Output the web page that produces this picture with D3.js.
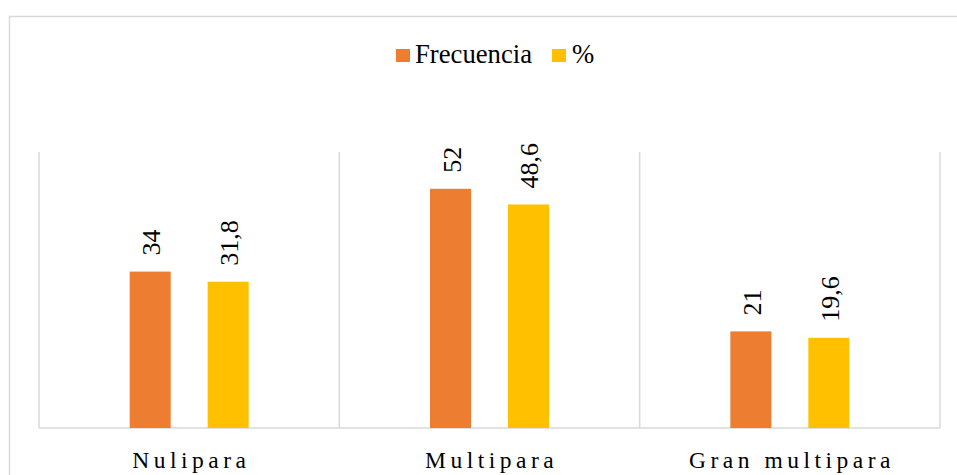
<!DOCTYPE html>
<html>
<head>
<meta charset="utf-8">
<script src="https://cdn.jsdelivr.net/npm/d3@7"></script>
<style>
  html, body { margin: 0; padding: 0; background: #fff; }
  svg { display: block; }
  svg text { font-family: "Liberation Serif", "Times New Roman", Times, serif; }
</style>
</head>
<body>
<svg id="chart" width="957" height="475"></svg>
<script>
const categories = ["Nulipara", "Multipara", "Gran multipara"];
const seriesNames = ["Frecuencia", "%"];
const frecuencia = [34, 52, 21];
const porcentaje = [31.8, 48.6, 19.6];
const labelsFrecuencia = ["34", "52", "21"];
const labelsPorcentaje = ["31,8", "48,6", "19,6"];
const colors = ["#ED7D31", "#FFC000"];
const yDomain = [0, 60];

const svg = d3.select("#chart");

// outer border
svg.append("rect")
  .attr("x", 9.5).attr("y", 16.5)
  .attr("width", 1100).attr("height", 1100)
  .attr("fill", "none").attr("stroke", "#d9d9d9").attr("stroke-width", 1.5);

const plot = { left: 39, right: 940, top: 152, bottom: 428 };

const x0 = d3.scaleBand().domain(categories).range([plot.left, plot.right]).padding(0);
const x1 = d3.scaleBand().domain(seriesNames).range([-59.5, 59.5]).paddingInner(0.474).paddingOuter(0);
const y = d3.scaleLinear().domain(yDomain).range([plot.bottom, plot.top]);

// vertical category gridlines
const gridXs = categories.map(c => x0(c)).concat([x0(categories[categories.length - 1]) + x0.bandwidth()]);
svg.append("g").selectAll("line").data(gridXs).join("line")
  .attr("x1", d => d).attr("x2", d => d)
  .attr("y1", y(yDomain[1])).attr("y2", y(0))
  .attr("stroke", "#d9d9d9").attr("stroke-width", 1.5);

// baseline
svg.append("line")
  .attr("x1", plot.left).attr("x2", plot.right)
  .attr("y1", y(0)).attr("y2", y(0))
  .attr("stroke", "#d9d9d9").attr("stroke-width", 1.5);

const rows = [];
categories.forEach((c, i) => {
  rows.push({ cat: c, s: seriesNames[0], v: frecuencia[i], label: labelsFrecuencia[i], color: colors[0] });
  rows.push({ cat: c, s: seriesNames[1], v: porcentaje[i], label: labelsPorcentaje[i], color: colors[1] });
});

const center = c => x0(c) + x0.bandwidth() / 2;

svg.append("g").selectAll("rect").data(rows).join("rect")
  .attr("x", d => center(d.cat) + x1(d.s))
  .attr("width", x1.bandwidth())
  .attr("y", d => y(d.v))
  .attr("height", d => y(0) - y(d.v))
  .attr("fill", d => d.color);

// data labels (rotated)
svg.append("g").selectAll("text").data(rows).join("text")
  .attr("transform", d => `translate(${center(d.cat) + x1(d.s) + x1.bandwidth() / 2 + 10},${y(d.v) - 16}) rotate(-90)`)
  .attr("text-anchor", "start")
  .attr("font-size", 26)
  .attr("fill", "#000")
  .text(d => d.label);

// category labels
svg.append("g").selectAll("text").data(categories).join("text")
  .attr("x", d => center(d) + 2.2)
  .attr("y", 468)
  .attr("text-anchor", "middle")
  .attr("font-size", 23.5)
  .attr("letter-spacing", "4.5px")
  .attr("fill", "#000")
  .text(d => d);

// legend
const legend = svg.append("g");
const legendItems = [
  { name: seriesNames[0], color: colors[0], sx: 396, tx: 415 },
  { name: seriesNames[1], color: colors[1], sx: 552, tx: 572 }
];
legendItems.forEach(it => {
  legend.append("rect").attr("x", it.sx).attr("y", 49).attr("width", 14).attr("height", 13).attr("fill", it.color);
  legend.append("text").attr("x", it.tx).attr("y", 63)
    .attr("font-size", 26.7).attr("fill", "#000")
    .text(it.name);
});
</script>
</body>
</html>
